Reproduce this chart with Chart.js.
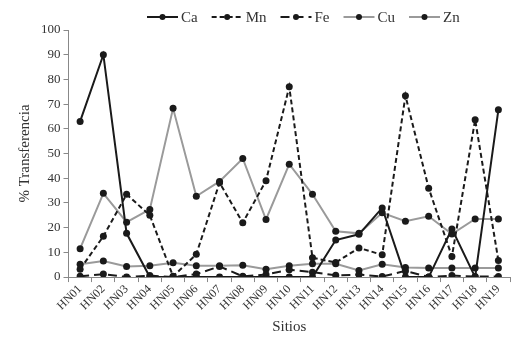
<!DOCTYPE html>
<html><head><meta charset="utf-8">
<script src="https://cdn.jsdelivr.net/npm/chart.js@4/dist/chart.umd.min.js"></script>
<style>html,body{margin:0;padding:0;background:#fff}#w{width:523px;height:341px}</style>
</head><body><div id="w"><canvas id="c" width="523" height="341"></canvas></div>
<script>
const categories = ["HN01","HN02","HN03","HN04","HN05","HN06","HN07","HN08","HN09","HN10","HN11","HN12","HN13","HN14","HN15","HN16","HN17","HN18","HN19"];
const ca = [63,90,17.7,0,0,0,0,0,0,0,0,15,17.3,28,0,0,19.5,0,67.7];
const mn = [3.2,16.5,33.5,25,0.3,9.2,38.2,22,39,77,7.8,5.9,11.8,9,73.4,36,8.3,63.7,6.7];
const fe = [0.3,1.2,0,0.6,0,1.2,4.3,0.3,1,3,2,0.7,1,0.2,2.5,0,0.6,0.2,0.2];
const cu = [5.2,6.5,4.3,4.6,5.8,4.6,4.6,4.8,3.2,4.6,5.4,5.4,2.7,5.2,3.9,3.7,3.7,3.7,3.7];
const zn = [11.5,33.9,22.2,27.4,68.3,32.7,38.7,48,23.3,45.7,33.5,18.5,17.7,26,22.6,24.6,17.4,23.5,23.5];
const yTicks = [0,10,20,30,40,50,60,70,80,90,100];

const FONT = "'Liberation Serif', 'Times New Roman', serif";
const GRAY = '#9a9a9a';
const seriesDefs = [
  {label:'Ca', data:ca, color:'#1a1a1a', dash:[], width:2},
  {label:'Mn', data:mn, color:'#1a1a1a', dash:[5,3], width:2},
  {label:'Fe', data:fe, color:'#1a1a1a', dash:[9,5], width:2},
  {label:'Cu', data:cu, color:GRAY, dash:[], width:2},
  {label:'Zn', data:zn, color:GRAY, dash:[], width:2}
];

const legendPlugin = {
  id:'customLegend',
  afterDraw(chart){
    const ctx = chart.ctx;
    ctx.save();
    ctx.font = '15px ' + FONT;
    ctx.textBaseline = 'middle';
    let x = 147; const y = 17;
    seriesDefs.forEach(s=>{
      ctx.strokeStyle = s.color; ctx.lineWidth = s.width; ctx.setLineDash(s.dash);
      ctx.beginPath(); ctx.moveTo(x, y); ctx.lineTo(x+31, y); ctx.stroke();
      ctx.setLineDash([]);
      ctx.fillStyle = '#1a1a1a';
      ctx.beginPath(); ctx.arc(x+15.5, y, 3, 0, Math.PI*2); ctx.fill();
      ctx.fillStyle = '#333';
      ctx.fillText(s.label, x+34, y+1);
      x += 34 + ctx.measureText(s.label).width + 14;
    });
    ctx.restore();
  }
};

new Chart(document.getElementById('c'), {
  type:'line',
  data:{
    labels:categories,
    datasets: seriesDefs.map(s=>({
      label:s.label, data:s.data, borderColor:s.color, borderWidth:s.width, borderDash:s.dash,
      pointRadius:3.5, pointBackgroundColor:'#1a1a1a', pointBorderColor:'#1a1a1a', pointBorderWidth:0,
      tension:0, fill:false
    }))
  },
  options:{
    responsive:false, animation:false,
    layout:{padding:{top:30, right:13, left:6, bottom:3}},
    plugins:{legend:{display:false}, tooltip:{enabled:false}},
    scales:{
      x:{
        offset:true,
        grid:{offset:true, drawOnChartArea:false, drawTicks:true, tickLength:5, color:'#888'},
        border:{color:'#888', width:1},
        ticks:{autoSkip:false, minRotation:45, maxRotation:45, color:'#333', font:{family:FONT, size:12}, padding:0},
        title:{display:true, text:'Sitios', color:'#333', font:{family:FONT, size:15}, padding:{top:5, bottom:2}}
      },
      y:{
        min:0, max:100,
        afterBuildTicks(axis){ axis.ticks = yTicks.map(v=>({value:v})); },
        grid:{drawOnChartArea:false, drawTicks:true, tickLength:5, color:'#888'},
        border:{color:'#888', width:1},
        ticks:{color:'#333', font:{family:FONT, size:13}, padding:3},
        title:{display:true, text:'% Transferencia', color:'#333', font:{family:FONT, size:15}, padding:{top:10, bottom:4}}
      }
    }
  },
  plugins:[legendPlugin]
});
</script></body></html>
